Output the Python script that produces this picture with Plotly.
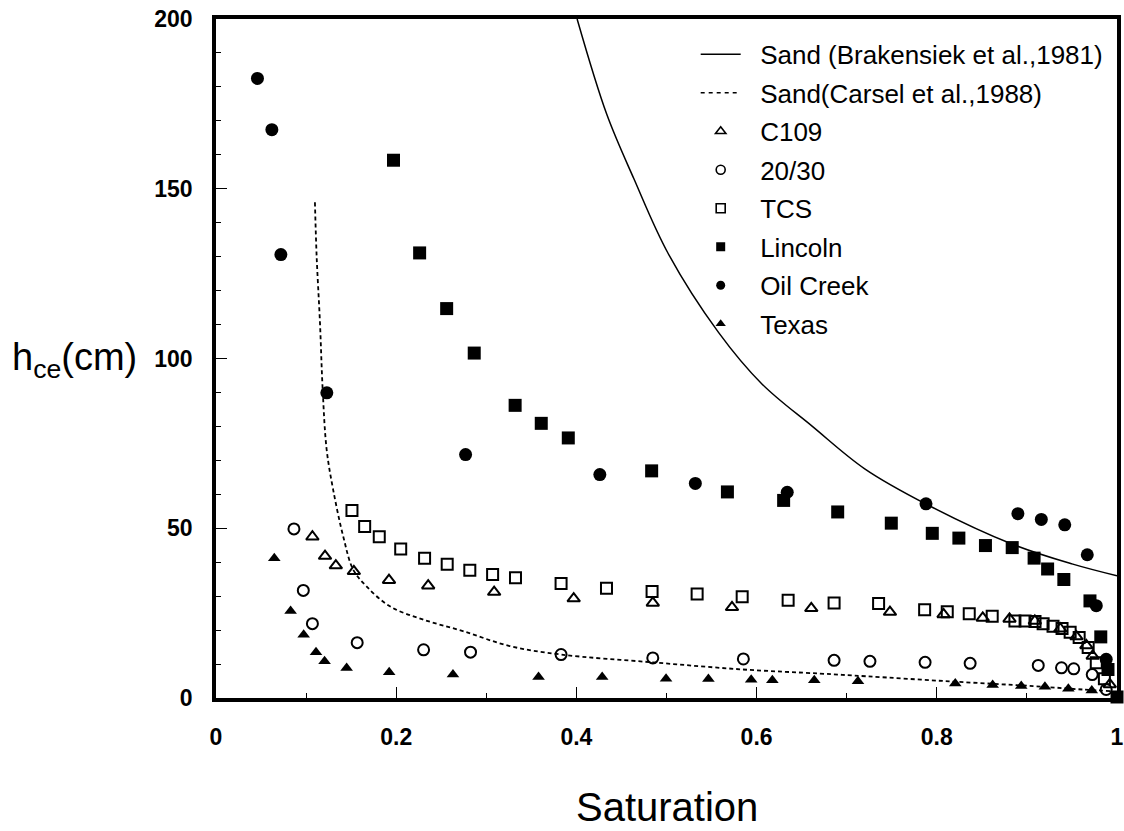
import plotly.graph_objects as go

# ---------------- data ----------------
brak_x = [0.4008, 0.4336, 0.4637, 0.5017, 0.5577, 0.6059, 0.6619, 0.72, 0.789, 0.882, 0.95, 1.0]
brak_y = [200.0, 172.0, 153.0, 131.0, 107.7, 92.5, 80.0, 67.5, 57.0, 45.5, 39.5, 36.0]

carsel_x = [0.1098, 0.1117, 0.1154, 0.1184, 0.1228, 0.130, 0.1412, 0.1523, 0.167, 0.193,
            0.230, 0.274, 0.326, 0.383, 0.4848, 0.585, 0.670, 0.7218, 0.814, 0.907, 0.962, 0.995]
carsel_y = [146.0, 130.1, 110.5, 90.8, 73.2, 61.4, 47.6, 37.8, 32.9, 27.0,
            23.1, 19.7, 15.3, 12.8, 10.5, 8.4, 7.2, 6.4, 4.9, 3.5, 2.5, 2.0]

c109_x = [0.107, 0.121, 0.133, 0.153, 0.192, 0.2355, 0.3087, 0.397, 0.4848, 0.5727, 0.6607,
          0.748, 0.8075, 0.851, 0.8807, 0.9088, 0.937, 0.955, 0.966, 0.973, 0.992]
c109_y = [47.5, 41.8, 39.0, 37.3, 34.7, 33.1, 31.2, 29.3, 28.0, 26.7, 26.4,
          25.3, 24.6, 23.6, 23.3, 22.7, 20.4, 18.1, 15.5, 12.4, 4.0]

s2030_x = [0.0865, 0.0969, 0.107, 0.1567, 0.2304, 0.2825, 0.383, 0.4848, 0.5853, 0.686,
           0.7258, 0.787, 0.837, 0.9126, 0.9384, 0.952, 0.9725, 0.988]
s2030_y = [49.8, 31.7, 21.9, 16.3, 14.2, 13.5, 12.8, 11.8, 11.5, 11.1,
           10.8, 10.5, 10.2, 9.6, 8.9, 8.6, 6.9, 2.5]

tcs_x = [0.1509, 0.165, 0.1812, 0.205, 0.2315, 0.2566, 0.2817, 0.307, 0.3324, 0.383, 0.4334,
         0.484, 0.534, 0.584, 0.635, 0.686, 0.7354, 0.7865, 0.8116, 0.836, 0.8615, 0.8867,
         0.898, 0.909, 0.918, 0.929, 0.939, 0.948, 0.958, 0.968, 0.977, 0.986]
tcs_y = [55.2, 50.5, 47.5, 43.9, 41.2, 39.4, 37.6, 36.4, 35.4, 33.7, 32.3,
         31.4, 30.6, 29.8, 28.8, 28.0, 27.8, 26.0, 25.4, 24.8, 24.1, 22.7,
         22.7, 22.5, 21.9, 21.1, 20.5, 19.4, 17.8, 14.9, 10.4, 5.7]

lincoln_x = [0.197, 0.226, 0.256, 0.2866, 0.332, 0.361, 0.391, 0.4835, 0.5676, 0.630, 0.690,
             0.7495, 0.795, 0.8245, 0.854, 0.8837, 0.908, 0.923, 0.941, 0.970, 0.982, 0.990, 1.0]
lincoln_y = [158.4, 131.1, 114.7, 101.6, 86.2, 80.9, 76.6, 66.9, 60.7, 58.2, 54.8,
             51.5, 48.5, 47.1, 44.9, 44.3, 41.2, 38.0, 34.9, 28.6, 18.0, 8.4, 0.3]

oil_x = [0.046, 0.062, 0.072, 0.123, 0.277, 0.426, 0.532, 0.634, 0.788, 0.890, 0.916,
         0.942, 0.967, 0.977, 0.988]
oil_y = [182.5, 167.4, 130.6, 89.9, 71.7, 65.8, 63.2, 60.6, 57.2, 54.3, 52.6,
         51.0, 42.2, 27.2, 11.4]

texas_x = [0.0647, 0.0828, 0.0973, 0.111, 0.1205, 0.145, 0.1922, 0.263, 0.358, 0.4286,
           0.4995, 0.5465, 0.594, 0.6175, 0.664, 0.7125, 0.8205, 0.862, 0.8937, 0.920,
           0.946, 0.972]
texas_y = [41.2, 25.6, 18.6, 13.5, 10.8, 8.8, 7.6, 6.9, 6.2, 6.2,
           5.7, 5.6, 5.4, 5.2, 5.2, 4.9, 4.3, 3.8, 3.5, 3.3,
           2.7, 2.2]

legend_names = ["Sand (Brakensiek et al.,1981)", "Sand(Carsel et al.,1988)", "C109", "20/30",
                "TCS", "Lincoln", "Oil Creek", "Texas"]

# ---------------- figure ----------------
fig = go.Figure()
FONT = "Liberation Sans, Arial, Helvetica, sans-serif"

fig.add_trace(go.Scatter(x=brak_x, y=brak_y, mode="lines", line=dict(color="black", width=1.5, shape="spline"),
                         showlegend=False, hoverinfo="skip"))
fig.add_trace(go.Scatter(x=carsel_x, y=carsel_y, mode="lines",
                         line=dict(color="black", width=1.8, dash="4px,3px", shape="spline"),
                         showlegend=False, hoverinfo="skip"))

series = [
    (c109_x, c109_y, "triangle-up-open", 11, 2),
    (s2030_x, s2030_y, "circle-open", 11, 2),
    (tcs_x, tcs_y, "square-open", 11, 2),
    (lincoln_x, lincoln_y, "square", 13, 0),
    (oil_x, oil_y, "circle", 13, 0),
    (texas_x, texas_y, "triangle-up", 11, 0),
]
for xs, ys, sym, sz, lw in series:
    fig.add_trace(go.Scatter(x=xs, y=ys, mode="markers", cliponaxis=False,
                             marker=dict(symbol=sym, size=sz, color="black",
                                         line=dict(color="black", width=lw)),
                             showlegend=False))

# legend-only entries (small symbols like the reference)
PAD = "\u00a0\u00a0"
fig.add_trace(go.Scatter(x=[None], y=[None], mode="lines", name=PAD + legend_names[0],
                         legendgroup="g0", line=dict(color="black", width=1.5)))
fig.add_trace(go.Scatter(x=[None], y=[None], mode="lines", name=PAD + legend_names[1],
                         legendgroup="g1", line=dict(color="black", width=1.5, dash="4px,4px")))
leg_syms = [("triangle-up-open", 1.6), ("circle-open", 1.6), ("square-open", 1.6),
            ("square", 0), ("circle", 0), ("triangle-up", 0)]
for i, (name, (sym, lw)) in enumerate(zip(legend_names[2:], leg_syms)):
    fig.add_trace(go.Scatter(x=[None], y=[None], mode="markers", name=PAD + name,
                             legendgroup="g%d" % (i + 2),
                             marker=dict(symbol=sym, size=9, color="black",
                                         line=dict(color="black", width=lw))))

axis_common = dict(showline=True, linecolor="black", linewidth=3.5, mirror=True, automargin=False,
                   ticks="inside", tickcolor="black", tickwidth=1, showgrid=False, zeroline=False,
                   ticklabeloverflow="allow",
                   tickfont=dict(family=FONT, size=23, color="black", weight="bold"))

fig.update_xaxes(range=[0, 1], dtick=0.2, tick0=0, ticklen=11, ticklabelstandoff=16,
                 minor=dict(dtick=0.1, ticks="inside", ticklen=5, tickcolor="black", tickwidth=1),
                 **axis_common)
fig.update_yaxes(range=[0, 200], dtick=50, tick0=0, ticklen=11, ticklabelstandoff=15,
                 minor=dict(dtick=10, ticks="inside", ticklen=5, tickcolor="black", tickwidth=1),
                 **axis_common)

fig.add_annotation(text="Saturation", xref="paper", yref="paper", x=0.5007, y=-0.161,
                   showarrow=False, xanchor="center", yanchor="middle",
                   font=dict(family=FONT, size=40, color="black"))
fig.add_annotation(text="h<sub>ce</sub>(cm)", xref="paper", yref="paper", x=-0.2285, y=0.498,
                   showarrow=False, xanchor="left", yanchor="middle",
                   font=dict(family=FONT, size=38, color="black"))

fig.update_layout(
    width=1124, height=831,
    margin=dict(l=216, r=6.5, t=19, b=132.5, autoexpand=False),
    paper_bgcolor="white", plot_bgcolor="white",
    font=dict(family=FONT, color="black"),
    legend=dict(x=0.5324, y=0.9826, xanchor="left", yanchor="top", bgcolor="rgba(0,0,0,0)",
                font=dict(family=FONT, size=26, color="black"), itemwidth=40,
                tracegroupgap=1.7, traceorder="grouped"),
)

# remove the default 8px page margin so the figure fills the window exactly
fig.write_html("out.html", config={"displayModeBar": False},
               post_script="document.body.style.margin='0';document.body.style.overflow='hidden';")
